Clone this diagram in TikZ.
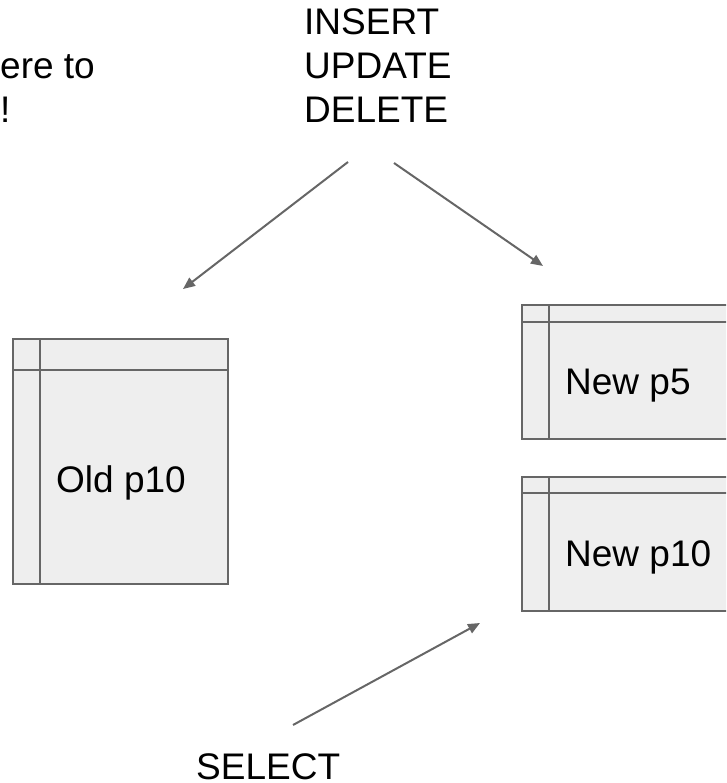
\documentclass[tikz,border=0pt]{standalone}
\usepackage{fontspec}
\setmainfont{Liberation Sans}
\usetikzlibrary{arrows.meta}
\definecolor{edgegray}{HTML}{666666}
\definecolor{pagefill}{HTML}{EEEEEE}
\tikzset{
  lbl/.style={inner sep=0pt, anchor=base west, text=black,
    font=\fontsize{37}{44}\selectfont},
  pagebox/.style={draw=edgegray, fill=pagefill, line width=2pt},
  grid line/.style={draw=edgegray, line width=2pt},
  flow/.style={draw=edgegray, line width=2pt,
    -{Triangle[length=12pt,width=10pt]}},
}
\begin{document}
\begin{tikzpicture}[x=1pt, y=-1pt]
  \useasboundingbox (0,0) rectangle (726,783);
  \clip (0,0) rectangle (726,783);

  % cut-off caption at the left
  \node[lbl] (note1) at (0,79) {ere to};
  \node[lbl] (note2) at (0,123) {!};

  % write operations
  \node[lbl] (ins) at (304,35) {INSERT};
  \node[lbl] (upd) at (304,79) {UPDATE};
  \node[lbl] (del) at (304,123) {DELETE};

  % old page
  \draw[pagebox] (13,339) rectangle (228,584);
  \draw[grid line] (40,339) -- (40,584);
  \draw[grid line] (13,370) -- (228,370);
  \node[lbl] (old10) at (56,492) {Old p10};

  % new page p5
  \draw[pagebox] (522,305) rectangle (745,439);
  \draw[grid line] (549,305) -- (549,439);
  \draw[grid line] (522,322) -- (745,322);
  \node[lbl] (new5) at (565,394) {New p5};

  % new page p10
  \draw[pagebox] (522,477) rectangle (745,611);
  \draw[grid line] (549,477) -- (549,611);
  \draw[grid line] (522,493) -- (745,493);
  \node[lbl] (new10) at (565,566) {New p10};

  % read operation
  \node[lbl, text depth=0pt] (sel) at (196,779) {SELECT};

  % arrow end points
  \coordinate (wL) at (348,162);
  \coordinate (oldIn) at (183,289);
  \coordinate (wR) at (394,163);
  \coordinate (newIn) at (543,266);
  \coordinate (sOut) at (293,725);
  \coordinate (newRead) at (480,623);

  \draw[flow] (wL) -- (oldIn);
  \draw[flow] (wR) -- (newIn);
  \draw[flow] (sOut) -- (newRead);
\end{tikzpicture}
\end{document}
